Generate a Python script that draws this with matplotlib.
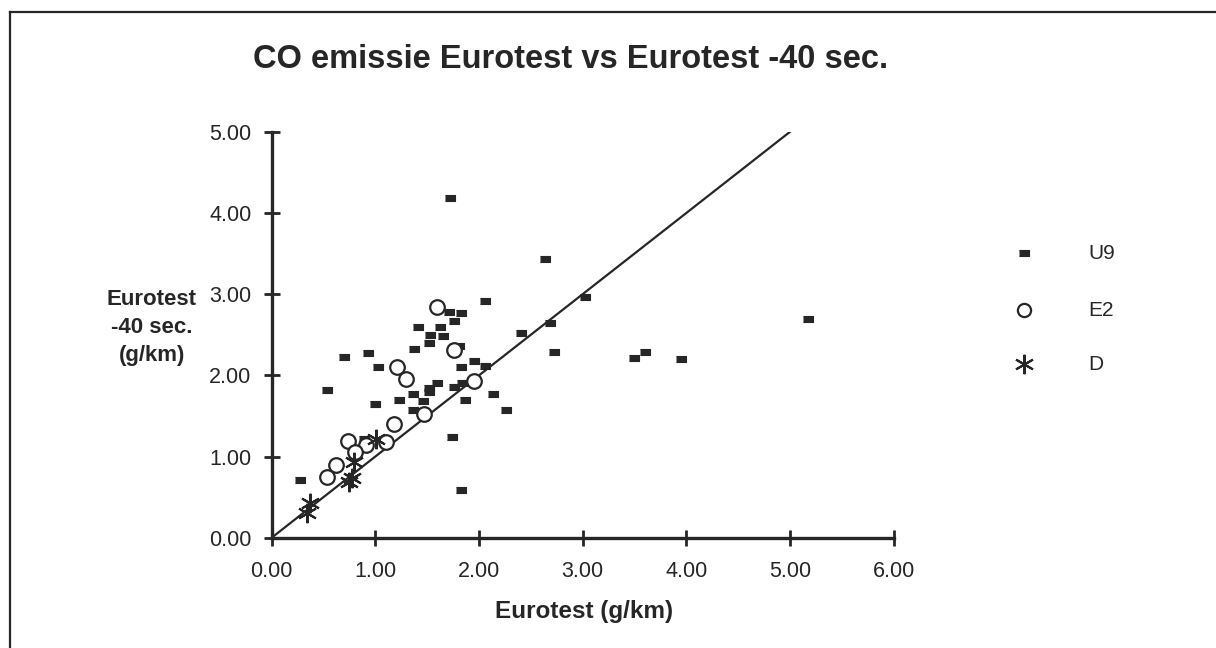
import numpy as np
import matplotlib.pyplot as plt
from matplotlib.lines import Line2D
from matplotlib.ticker import FormatStrFormatter

plt.rcParams['font.family'] = ['Liberation Sans', 'DejaVu Sans']

# U9 vehicles (Eurotest, Eurotest -40 sec.) in g/km
u9_x = [1.72, 2.64, 2.06, 3.02, 1.71, 1.83, 1.76, 1.41, 1.62, 1.53, 1.65, 1.52,
        2.40, 2.68, 2.72, 1.37, 1.81, 0.93, 0.70, 1.03, 1.95, 1.83, 2.06, 0.53,
        1.59, 1.52, 1.52, 1.76, 1.84, 1.36, 1.23, 1.46, 2.13, 1.86, 1.00, 1.36,
        2.26, 1.74, 1.83, 0.27, 0.89, 3.49, 3.60, 3.95, 5.17]
u9_y = [4.18, 3.43, 2.91, 2.96, 2.78, 2.77, 2.67, 2.59, 2.60, 2.50, 2.48, 2.40,
        2.52, 2.64, 2.29, 2.32, 2.36, 2.28, 2.22, 2.10, 2.18, 2.10, 2.11, 1.82,
        1.90, 1.84, 1.79, 1.85, 1.90, 1.77, 1.70, 1.68, 1.77, 1.70, 1.65, 1.57,
        1.57, 1.24, 0.59, 0.71, 1.22, 2.21, 2.29, 2.20, 2.69]

# E2 vehicles
e2_x = [1.59, 1.76, 1.21, 1.30, 1.95, 1.47, 1.18, 1.10, 0.91, 0.74, 0.80, 0.62, 0.53]
e2_y = [2.84, 2.31, 2.10, 1.96, 1.93, 1.52, 1.40, 1.18, 1.14, 1.19, 1.06, 0.90, 0.75]

# D vehicles
d_x = [1.01, 0.79, 0.77, 0.75, 0.37, 0.34]
d_y = [1.22, 0.93, 0.74, 0.68, 0.43, 0.31]

# y = x reference line
diag = [0.0, 5.0]

ink = '#262626'

fig = plt.figure(figsize=(12.16, 6.48), dpi=100)
ax = fig.add_axes([0.2234, 0.1702, 0.5117, 0.6266])

ax.plot(diag, diag, color=ink, lw=1.6, zorder=2)

dash = [(-1, -0.55), (1, -0.55), (1, 0.55), (-1, 0.55)]
u9_style = dict(marker=dash, ms=7.5, color=ink, mec=ink, mew=0.8)
e2_style = dict(marker='o', ms=10.5, mfc='white', mec=ink, mew=1.6)
d_style = dict(marker=(6, 2, 0), ms=14, color=ink, mew=1.5)

ax.plot(u9_x, u9_y, ls='none', zorder=3, **u9_style)
ax.plot(e2_x, e2_y, ls='none', zorder=4, **e2_style)
ax.plot(d_x, d_y, ls='none', zorder=5, **d_style)

ax.set_xlim(0, 6)
ax.set_ylim(0, 5)
ax.set_xticks(np.arange(0, 7, 1))
ax.set_yticks(np.arange(0, 6, 1))
ax.xaxis.set_major_formatter(FormatStrFormatter('%.2f'))
ax.yaxis.set_major_formatter(FormatStrFormatter('%.2f'))
ax.tick_params(direction='inout', length=11, width=2, color=ink, labelsize=15.5,
               labelcolor=ink)
ax.tick_params(axis='x', pad=11)
ax.tick_params(axis='y', pad=9)
for s in ['top', 'right']:
    ax.spines[s].set_visible(False)
for s in ['left', 'bottom']:
    ax.spines[s].set_linewidth(2.4)
    ax.spines[s].set_color(ink)

fig.text(0.469, 0.908, 'CO emissie Eurotest vs Eurotest -40 sec.', ha='center',
         va='center', fontsize=23.5, fontweight='bold', color=ink)
fig.text(0.48, 0.057, 'Eurotest (g/km)', ha='center', va='center',
         fontsize=17.5, fontweight='bold', color=ink)
fig.text(0.125, 0.495, 'Eurotest\n-40 sec.\n(g/km)', ha='center', va='center',
         fontsize=16, fontweight='bold', color=ink, linespacing=1.45)

# legend drawn by hand on the right side
leg_y = [0.609, 0.521, 0.438]
leg_names = ['U9', 'E2', 'D']
leg_marks = [u9_style, dict(e2_style, ms=9.5), d_style]
for yy, name, mk in zip(leg_y, leg_names, leg_marks):
    fig.add_artist(Line2D([0.842], [yy], ls='none', **mk))
    fig.text(0.895, yy, name, ha='left', va='center', fontsize=15, color=ink)

# page frame
fig.add_artist(Line2D([0.0085, 0.0085], [0.0, 0.982], color=ink, lw=1.6))
fig.add_artist(Line2D([0.0085, 1.0], [0.982, 0.982], color=ink, lw=1.6))

fig.savefig('out.png', dpi=100)
